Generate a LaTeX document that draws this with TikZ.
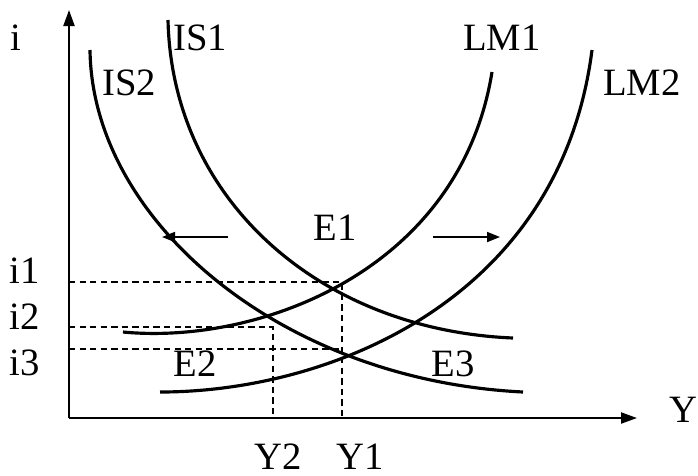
\documentclass[tikz,border=0pt]{standalone}
\usepackage{fontspec}
\setmainfont{Liberation Serif}
\usepackage{tikz}
\usetikzlibrary{arrows.meta}

\begin{document}
\begin{tikzpicture}[
  x=0.01cm,y=-0.01cm,
  font=\fontsize{11}{13}\selectfont,
  axis/.style={-{Triangle[length=1.6mm,width=1.1mm]},line width=0.6pt},
  curve/.style={line width=0.9pt},
  guide/.style={dash pattern=on 1.8pt off 1.2pt,line width=0.45pt},
  move/.style={-{Triangle[length=1.3mm,width=1mm]},line width=0.5pt},
  lbl/.style={inner sep=0pt}]
\useasboundingbox (0,0) rectangle (698,475);

% ---- axes -------------------------------------------------------------
\coordinate (O)    at (69,418);
\coordinate (ytop) at (69,10);
\coordinate (xend) at (637,418);
\draw[axis] (O) -- (ytop);
\draw[axis] (O) -- (xend);

% ---- IS and LM curves -------------------------------------------------
\draw[curve] (168,20)  .. controls (172,200) and (320,330) .. (513,338); % IS1
\draw[curve] (90,50)   .. controls (92,220)  and (280,380) .. (523,392); % IS2
\draw[curve] (123,332) .. controls (260,345) and (460,270) .. (492,72);  % LM1
\draw[curve] (160,392) .. controls (330,392) and (560,300) .. (592,50);  % LM2

% ---- guide lines ------------------------------------------------------
\coordinate (i1) at (69,282);  \coordinate (e1) at (342,282);
\coordinate (i2) at (69,327);  \coordinate (e2) at (273,327);
\coordinate (i3) at (69,349);  \coordinate (e3) at (342,349);
\coordinate (y1) at (342,418); \coordinate (y2) at (273,418);
\draw[guide] (i1) -- (e1) -- (y1);
\draw[guide] (i2) -- (e2) -- (y2);
\draw[guide] (i3) -- (e3);

% ---- shift arrows -----------------------------------------------------
\coordinate (lt) at (228,237); \coordinate (lh) at (162,237);
\coordinate (rt) at (433,237); \coordinate (rh) at (500,237);
\draw[move] (lt) -- (lh);
\draw[move] (rt) -- (rh);

% ---- labels -----------------------------------------------------------
\node[lbl] (li)   at (16,38)   {i};
\node[lbl] (lY)   at (683,410) {Y};
\node[lbl] (lIS1) at (200,38)  {IS1};
\node[lbl] (lIS2) at (129,83)  {IS2};
\node[lbl] (lLM1) at (502,38)  {LM1};
\node[lbl] (lLM2) at (642,83)  {LM2};
\node[lbl] (lE1)  at (335,228) {E1};
\node[lbl] (lE2)  at (195,364) {E2};
\node[lbl] (lE3)  at (453,364) {E3};
\node[lbl] (li1)  at (25,271)  {i1};
\node[lbl] (li2)  at (25,317)  {i2};
\node[lbl] (li3)  at (25,363)  {i3};
\node[lbl] (lY2)  at (278,457) {Y2};
\node[lbl] (lY1)  at (360,457) {Y1};
\end{tikzpicture}
\end{document}
